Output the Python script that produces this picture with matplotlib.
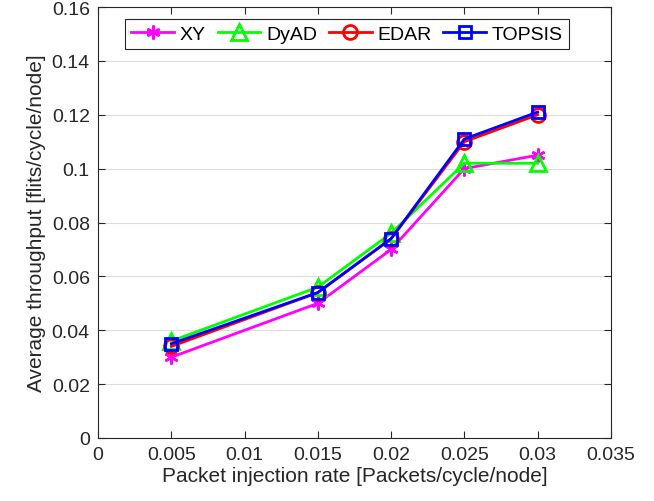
import numpy as np
import matplotlib.pyplot as plt

plt.rcParams['font.family'] = ['Liberation Sans', 'DejaVu Sans']

rate = [0.005, 0.015, 0.02, 0.025, 0.03]
xy = [0.030, 0.050, 0.070, 0.100, 0.105]
dyad = [0.036, 0.056, 0.076, 0.102, 0.102]
edar = [0.034, 0.054, 0.074, 0.110, 0.120]
topsis = [0.035, 0.054, 0.074, 0.111, 0.121]

fig = plt.figure(figsize=(6.54, 5.02), dpi=100)
ax = fig.add_axes([0.150, 0.1255, 0.784, 0.8585])

ax.plot(rate, xy, color='magenta', marker=(6, 2, 0), markersize=10, mew=1.8, lw=2, label='XY')
ax.plot(rate, dyad, color='#00ff00', marker='^', markersize=11, mfc='none', mew=2, lw=2, label='DyAD')
ax.plot(rate, edar, color='red', marker='o', markersize=10, mfc='none', mew=2, lw=2, label='EDAR')
ax.plot(rate, topsis, color='blue', marker='s', markersize=9, mfc='none', mew=2, lw=2, label='TOPSIS')

ax.set_xlim(0, 0.035)
ax.set_ylim(0, 0.16)
ax.set_xticks([0, 0.005, 0.01, 0.015, 0.02, 0.025, 0.03, 0.035])
ax.set_xticklabels(['0', '0.005', '0.01', '0.015', '0.02', '0.025', '0.03', '0.035'])
ax.set_yticks(np.arange(0, 0.161, 0.02))
ax.set_yticklabels(['0', '0.02', '0.04', '0.06', '0.08', '0.1', '0.12', '0.14', '0.16'])
ax.tick_params(direction='in', top=True, right=True, labelsize=14, colors='#262626', length=5, pad=6)
ax.yaxis.grid(True, color='#dcdcdc', lw=0.8)
ax.set_axisbelow(True)
for s in ax.spines.values():
    s.set_color('#262626')
    s.set_linewidth(0.8)

ax.set_xlabel('Packet injection rate [Packets/cycle/node]', fontsize=15, color='#262626', labelpad=2)
ax.set_ylabel('Average throughput [flits/cycle/node]', fontsize=15, color='#262626', labelpad=4)

leg = ax.legend(loc='upper left', bbox_to_anchor=(0.042, 0.985), ncol=4, fontsize=14,
                fancybox=False, framealpha=1, edgecolor='#262626', handlelength=2.2,
                columnspacing=0.6, handletextpad=0.3, borderpad=0.3, borderaxespad=0.3)
leg.get_frame().set_linewidth(0.8)

plt.savefig('out.png', dpi=100)
